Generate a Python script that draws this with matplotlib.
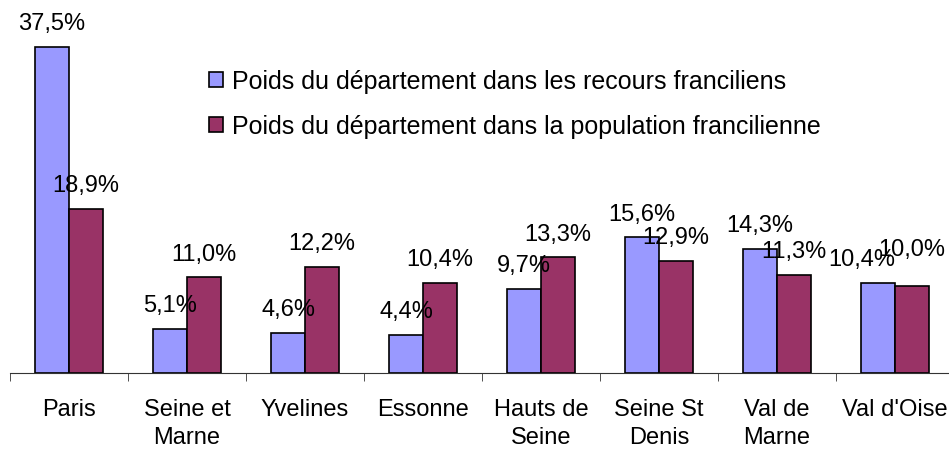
import matplotlib.pyplot as plt
import numpy as np

plt.rcParams['font.family'] = ['Liberation Sans', 'DejaVu Sans']

departements = ['Paris', 'Seine et\nMarne', 'Yvelines', 'Essonne', 'Hauts de\nSeine',
                'Seine St\nDenis', 'Val de\nMarne', "Val d'Oise"]
recours = [37.5, 5.1, 4.6, 4.4, 9.7, 15.6, 14.3, 10.4]
population = [18.9, 11.0, 12.2, 10.4, 13.3, 12.9, 11.3, 10.0]
noms_series = ['Poids du département dans les recours franciliens',
               'Poids du département dans la population francilienne']
couleurs = ['#9999FF', '#993366']

W, H = 949, 452
fig = plt.figure(figsize=(W / 100, H / 100), dpi=100)
ax = fig.add_axes([10 / W, 78 / H, 944 / W, 374 / H])

x = np.arange(len(departements))
w = 0.288
b1 = ax.bar(x - w / 2, recours, w, color=couleurs[0], edgecolor='black', linewidth=1.2,
            label=noms_series[0])
b2 = ax.bar(x + w / 2, population, w, color=couleurs[1], edgecolor='black', linewidth=1.2,
            label=noms_series[1])

# petits décalages des étiquettes de Val d'Oise (comme dans l'original)
decalages = {(0, 7): (-12, 9), (1, 7): (0, 19)}
for k, (bars, vals) in enumerate([(b1, recours), (b2, population)]):
    for i, (b, v) in enumerate(zip(bars, vals)):
        ax.annotate(f'{v:.1f}%'.replace('.', ','), (b.get_x() + b.get_width() / 2, v),
                    xytext=decalages.get((k, i), (0, 9)), textcoords='offset points',
                    ha='center', va='bottom', fontsize=17)

ax.set_xlim(-0.5, len(departements) - 0.5)
ax.set_ylim(0, 43.0)
ax.set_yticks([])
for s in ['top', 'right', 'left']:
    ax.spines[s].set_visible(False)
ax.spines['bottom'].set_color('#333333')

ax.set_xticks(x)
ax.set_xticklabels(departements, fontsize=17, linespacing=1.35)
ax.set_xticks(np.arange(len(departements)) - 0.5, minor=True)
ax.tick_params(axis='x', which='major', length=0, pad=18)
ax.tick_params(axis='x', which='minor', length=6, color='#333333')

fig.legend(loc='upper left', bbox_to_anchor=(209 / W, 1 - 70 / H), frameon=False,
           fontsize=18, handlelength=0.55, handleheight=0.55, handletextpad=0.35,
           labelspacing=0.85, borderpad=0, borderaxespad=0)

fig.savefig('out.png', dpi=100)
